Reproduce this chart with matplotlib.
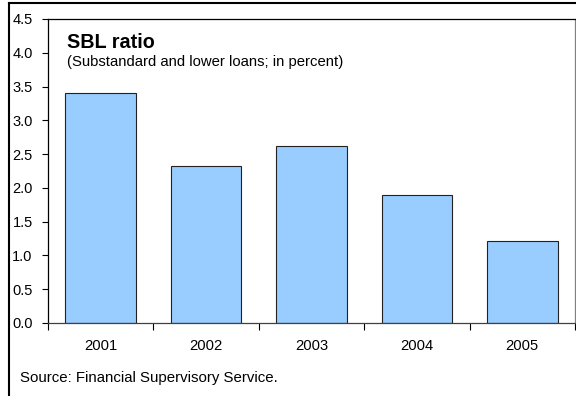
import matplotlib
matplotlib.use("Agg")
import matplotlib.pyplot as plt
from matplotlib.lines import Line2D

years = ["2001", "2002", "2003", "2004", "2005"]
sbl_ratio = [3.40, 2.32, 2.62, 1.89, 1.21]
yticks = [0.0, 0.5, 1.0, 1.5, 2.0, 2.5, 3.0, 3.5, 4.0, 4.5]

plt.rcParams['font.family'] = ['Liberation Sans', 'DejaVu Sans']

W, H = 576, 396
fig = plt.figure(figsize=(W / 100, H / 100), dpi=100)
ax = fig.add_axes([48 / W, (H - 323) / H, (575 - 48) / W, (323 - 19) / H])

x = list(range(len(years)))
ax.bar(x, sbl_ratio, width=0.67, color="#99CCFF", edgecolor="#222222", linewidth=0.8, zorder=2)

ax.set_xlim(-0.5, len(years) - 0.5)
ax.set_ylim(0, 4.5)
ax.set_yticks(yticks)
ax.set_yticklabels([f"{v:.1f}" for v in yticks], fontsize=10.5)
ax.tick_params(axis='y', direction='out', length=4, width=0.8, pad=7, colors='black')

# major x ticks at category boundaries, labels at centers (minor)
ax.set_xticks([i - 0.5 for i in range(len(years) + 1)])
ax.set_xticklabels([])
ax.set_xticks(x, minor=True)
ax.set_xticklabels(years, minor=True, fontsize=10.6)
ax.tick_params(axis='x', which='major', direction='out', length=5, width=0.8)
ax.tick_params(axis='x', which='minor', length=0, pad=11.5)

for side in ['left', 'top']:
    ax.spines[side].set_color('black')
    ax.spines[side].set_linewidth(0.9)
ax.spines['right'].set_color('#808080')
ax.spines['right'].set_linewidth(0.9)
ax.spines['bottom'].set_color('#404040')
ax.spines['bottom'].set_linewidth(0.9)

fig.text(67 / W, (H - 48) / H, "SBL ratio", fontsize=14.2, fontweight='bold', va='baseline', ha='left')
fig.text(67 / W, (H - 66) / H, "(Substandard and lower loans; in percent)", fontsize=10.7, va='baseline', ha='left')
fig.text(20 / W, (H - 382) / H, "Source: Financial Supervisory Service.", fontsize=10.8, va='baseline', ha='left')

# outer frame (top and left visible)
fig.add_artist(Line2D([9 / W, 1.0], [(H - 2.7) / H, (H - 2.7) / H], transform=fig.transFigure, color='black', linewidth=1.5))
fig.add_artist(Line2D([9.3 / W, 9.3 / W], [0, (H - 2.7) / H], transform=fig.transFigure, color='black', linewidth=1.5))

fig.savefig("out.png", dpi=100)
